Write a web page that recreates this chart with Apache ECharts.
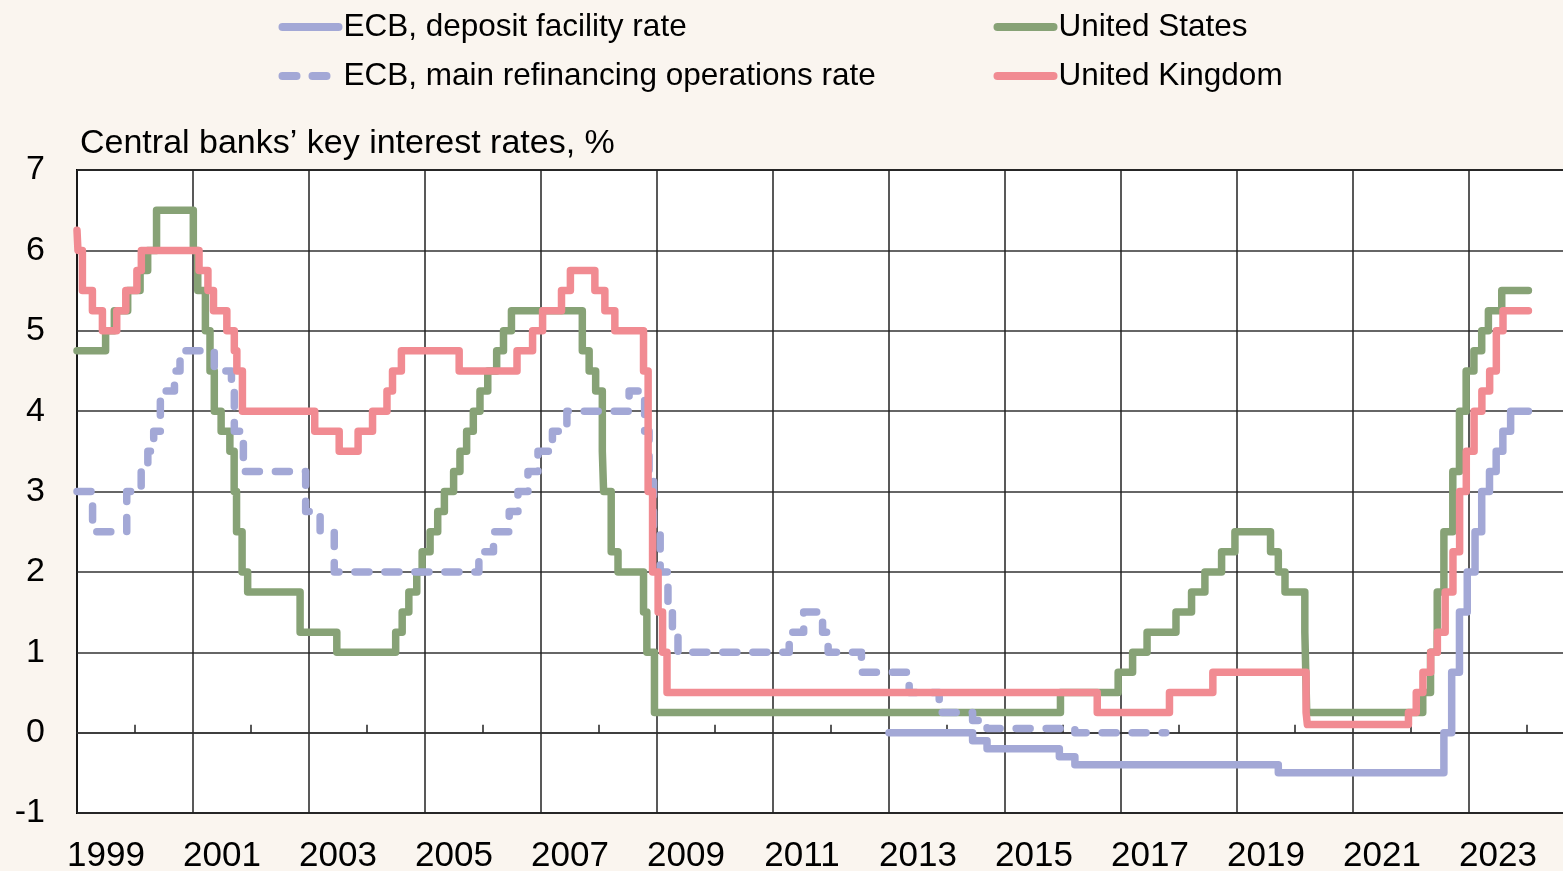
<!DOCTYPE html>
<html>
<head>
<meta charset="utf-8">
<title>Central banks' key interest rates</title>
<script src="https://cdn.jsdelivr.net/npm/echarts@6/dist/echarts.min.js"></script>
<style>
  html, body { margin: 0; padding: 0; background: #faf5ef; }
  #chart { width: 1563px; height: 871px; }
</style>
</head>
<body>
<div id="chart"></div>
<script>
// rate decisions: [date of change, new rate in %]
var depositRate = [
  ['2013-01-01', 0], ['2014-06-11', -0.1], ['2014-09-10', -0.2], ['2015-12-09', -0.3],
  ['2016-03-16', -0.4], ['2019-09-18', -0.5], ['2022-07-27', 0], ['2022-09-14', 0.75],
  ['2022-11-02', 1.5], ['2022-12-21', 2.0], ['2023-02-08', 2.5], ['2023-03-22', 3.0],
  ['2023-05-10', 3.25], ['2023-06-21', 3.5], ['2023-08-02', 3.75], ['2023-09-20', 4.0],
  ['2024-01-10', 4.0]
];
var mainRefiRate = [
  ['1999-01-01', 3.0], ['1999-04-09', 2.5], ['1999-11-10', 3.0], ['2000-02-09', 3.25],
  ['2000-03-22', 3.5], ['2000-04-28', 3.75], ['2000-06-09', 4.25], ['2000-09-06', 4.5],
  ['2000-10-11', 4.75], ['2001-05-15', 4.5], ['2001-08-31', 4.25], ['2001-09-18', 3.75],
  ['2001-11-14', 3.25], ['2002-12-11', 2.75], ['2003-03-12', 2.5], ['2003-06-09', 2.0],
  ['2005-12-06', 2.25], ['2006-03-08', 2.5], ['2006-06-15', 2.75], ['2006-08-09', 3.0],
  ['2006-10-11', 3.25], ['2006-12-13', 3.5], ['2007-03-14', 3.75], ['2007-06-13', 4.0],
  ['2008-07-09', 4.25], ['2008-10-15', 3.75], ['2008-11-12', 3.25], ['2008-12-10', 2.5],
  ['2009-01-21', 2.0], ['2009-03-11', 1.5], ['2009-04-08', 1.25], ['2009-05-13', 1.0],
  ['2011-04-13', 1.25], ['2011-07-13', 1.5], ['2011-11-09', 1.25], ['2011-12-14', 1.0],
  ['2012-07-11', 0.75], ['2013-05-08', 0.5], ['2013-11-13', 0.25], ['2014-06-11', 0.15],
  ['2014-09-10', 0.05], ['2016-03-16', 0.0], ['2017-10-10', 0.0]
];
var usRate = [
  ['1999-01-01', 4.75], ['1999-06-30', 5.0], ['1999-08-24', 5.25], ['1999-11-16', 5.5],
  ['2000-02-02', 5.75], ['2000-03-21', 6.0], ['2000-05-16', 6.5], ['2001-01-03', 6.0],
  ['2001-01-31', 5.5], ['2001-03-20', 5.0], ['2001-04-18', 4.5], ['2001-05-15', 4.0],
  ['2001-06-27', 3.75], ['2001-08-21', 3.5], ['2001-09-17', 3.0], ['2001-10-02', 2.5],
  ['2001-11-06', 2.0], ['2001-12-11', 1.75], ['2002-11-06', 1.25], ['2003-06-25', 1.0],
  ['2004-06-30', 1.25], ['2004-08-10', 1.5], ['2004-09-21', 1.75], ['2004-11-10', 2.0],
  ['2004-12-14', 2.25], ['2005-02-02', 2.5], ['2005-03-22', 2.75], ['2005-05-03', 3.0],
  ['2005-06-30', 3.25], ['2005-08-09', 3.5], ['2005-09-20', 3.75], ['2005-11-01', 4.0],
  ['2005-12-13', 4.25], ['2006-01-31', 4.5], ['2006-03-28', 4.75], ['2006-05-10', 5.0],
  ['2006-06-29', 5.25], ['2007-09-18', 4.75], ['2007-10-31', 4.5], ['2007-12-11', 4.25],
  ['2008-01-22', 3.5], ['2008-01-30', 3.0], ['2008-03-18', 2.25], ['2008-04-30', 2.0],
  ['2008-10-08', 1.5], ['2008-10-29', 1.0], ['2008-12-16', 0.25], ['2015-12-16', 0.5],
  ['2016-12-14', 0.75], ['2017-03-15', 1.0], ['2017-06-14', 1.25], ['2017-12-13', 1.5],
  ['2018-03-21', 1.75], ['2018-06-13', 2.0], ['2018-09-26', 2.25], ['2018-12-19', 2.5],
  ['2019-07-31', 2.25], ['2019-09-18', 2.0], ['2019-10-30', 1.75], ['2020-03-03', 1.25],
  ['2020-03-15', 0.25], ['2022-03-16', 0.5], ['2022-05-04', 1.0], ['2022-06-15', 1.75],
  ['2022-07-27', 2.5], ['2022-09-21', 3.25], ['2022-11-02', 4.0], ['2022-12-14', 4.5],
  ['2023-02-01', 4.75], ['2023-03-22', 5.0], ['2023-05-03', 5.25], ['2023-07-26', 5.5],
  ['2024-01-10', 5.5]
];
var ukRate = [
  ['1999-01-01', 6.25], ['1999-01-07', 6.0], ['1999-02-04', 5.5], ['1999-04-08', 5.25],
  ['1999-06-10', 5.0], ['1999-09-08', 5.25], ['1999-11-04', 5.5], ['2000-01-13', 5.75],
  ['2000-02-10', 6.0], ['2001-02-08', 5.75], ['2001-04-05', 5.5], ['2001-05-10', 5.25],
  ['2001-08-02', 5.0], ['2001-09-18', 4.75], ['2001-10-04', 4.5], ['2001-11-08', 4.0],
  ['2003-02-06', 3.75], ['2003-07-10', 3.5], ['2003-11-06', 3.75], ['2004-02-05', 4.0],
  ['2004-05-06', 4.25], ['2004-06-10', 4.5], ['2004-08-05', 4.75], ['2005-08-04', 4.5],
  ['2006-08-03', 4.75], ['2006-11-09', 5.0], ['2007-01-11', 5.25], ['2007-05-10', 5.5],
  ['2007-07-05', 5.75], ['2007-12-06', 5.5], ['2008-02-07', 5.25], ['2008-04-10', 5.0],
  ['2008-10-08', 4.5], ['2008-11-06', 3.0], ['2008-12-04', 2.0], ['2009-01-08', 1.5],
  ['2009-02-05', 1.0], ['2009-03-05', 0.5], ['2016-08-04', 0.25], ['2017-11-02', 0.5],
  ['2018-08-02', 0.75], ['2020-03-11', 0.25], ['2020-03-19', 0.1], ['2021-12-16', 0.25],
  ['2022-02-03', 0.5], ['2022-03-17', 0.75], ['2022-05-05', 1.0], ['2022-06-16', 1.25],
  ['2022-08-04', 1.75], ['2022-09-22', 2.25], ['2022-11-03', 3.0], ['2022-12-15', 3.5],
  ['2023-02-02', 4.0], ['2023-03-23', 4.25], ['2023-05-11', 4.5], ['2023-06-22', 5.0],
  ['2023-08-03', 5.25], ['2024-01-10', 5.25]
];
var yearLabels = ['1999','2000','2001','2002','2003','2004','2005','2006','2007','2008','2009','2010','2011',
  '2012','2013','2014','2015','2016','2017','2018','2019','2020','2021','2022','2023','2024'];

var FONT = "'Liberation Sans', Arial, sans-serif";
var BLUE = '#a3a8d6', GREEN = '#87a276', RED = '#f18b92';

// date string -> fractional year, so the x axis can be a plain value axis
function yr(s) {
  var d = Date.parse(s + 'T00:00:00Z');
  var y = +s.slice(0, 4);
  var a = Date.UTC(y, 0, 1), b = Date.UTC(y + 1, 0, 1);
  return y + (d - a) / (b - a);
}
function toXY(arr) {
  return arr.map(function (p) { return [yr(p[0]), p[1]]; });
}

function stepSeries(name, data, color, dashed) {
  return {
    name: name,
    type: 'line',
    step: 'end',
    symbol: 'none',
    data: toXY(data),
    lineStyle: { color: color, width: 7.5, type: dashed ? [14, 16] : 'solid', cap: 'round', join: 'round' },
    itemStyle: { color: color }
  };
}

var legendBase = {
  orient: 'vertical',
  top: 11,
  padding: 0,
  itemWidth: 56,
  itemHeight: 31,
  itemGap: 17,
  selectedMode: false,
  itemStyle: { opacity: 0 },
  lineStyle: { width: 8, cap: 'round' },
  textStyle: { fontFamily: FONT, fontSize: 31.5, color: '#000' }
};

var myChart = echarts.init(document.getElementById('chart'));
myChart.setOption({
  backgroundColor: '#faf5ef',
  animation: false,
  title: {
    text: 'Central banks\u2019 key interest rates, %',
    left: 80,
    top: 127,
    padding: 0,
    textStyle: { fontFamily: FONT, fontSize: 34, fontWeight: 'normal', color: '#000' }
  },
  legend: [
    Object.assign({}, legendBase, { left: 278.5, data: ['ECB, deposit facility rate', 'ECB, main refinancing operations rate'] }),
    Object.assign({}, legendBase, { left: 993.5, data: ['United States', 'United Kingdom'] })
  ],
  grid: {
    left: 77, top: 170, right: -22, bottom: 58,
    show: true, backgroundColor: '#fff', borderColor: '#000', borderWidth: 2,
    containLabel: false, outerBoundsMode: 'none'
  },
  xAxis: [
    {
      type: 'value', min: 1999, max: 2025, interval: 2, position: 'bottom',
      axisLine: { show: false, onZero: false },
      axisTick: { show: false },
      axisLabel: { show: false },
      splitLine: { show: true, lineStyle: { color: '#222', width: 1.5 } }
    },
    {
      type: 'category', data: yearLabels, boundaryGap: true, position: 'bottom',
      axisLine: { show: false, onZero: false },
      axisTick: { show: false },
      splitLine: { show: false },
      axisLabel: { interval: 1, margin: 26, fontFamily: FONT, fontSize: 35, color: '#000' }
    },
    {
      type: 'category', data: yearLabels, boundaryGap: true, position: 'bottom',
      axisLine: { show: true, onZero: true, lineStyle: { color: '#333', width: 1.5 } },
      axisTick: {
        show: true, inside: true, length: 8,
        interval: function (i) { return i % 2 === 1; },
        lineStyle: { color: '#222', width: 1.5 }
      },
      axisLabel: { show: false },
      splitLine: { show: false }
    }
  ],
  yAxis: {
    type: 'value', min: -1, max: 7, interval: 1,
    axisLine: { show: false },
    axisTick: { show: false },
    axisLabel: { margin: 32, fontFamily: FONT, fontSize: 34, color: '#000' },
    splitLine: { show: true, lineStyle: { color: '#333', width: 1.5 } }
  },
  series: [
    stepSeries('United States', usRate, GREEN, false),
    stepSeries('ECB, main refinancing operations rate', mainRefiRate, BLUE, true),
    stepSeries('United Kingdom', ukRate, RED, false),
    stepSeries('ECB, deposit facility rate', depositRate, BLUE, false)
  ]
});
</script>
</body>
</html>
